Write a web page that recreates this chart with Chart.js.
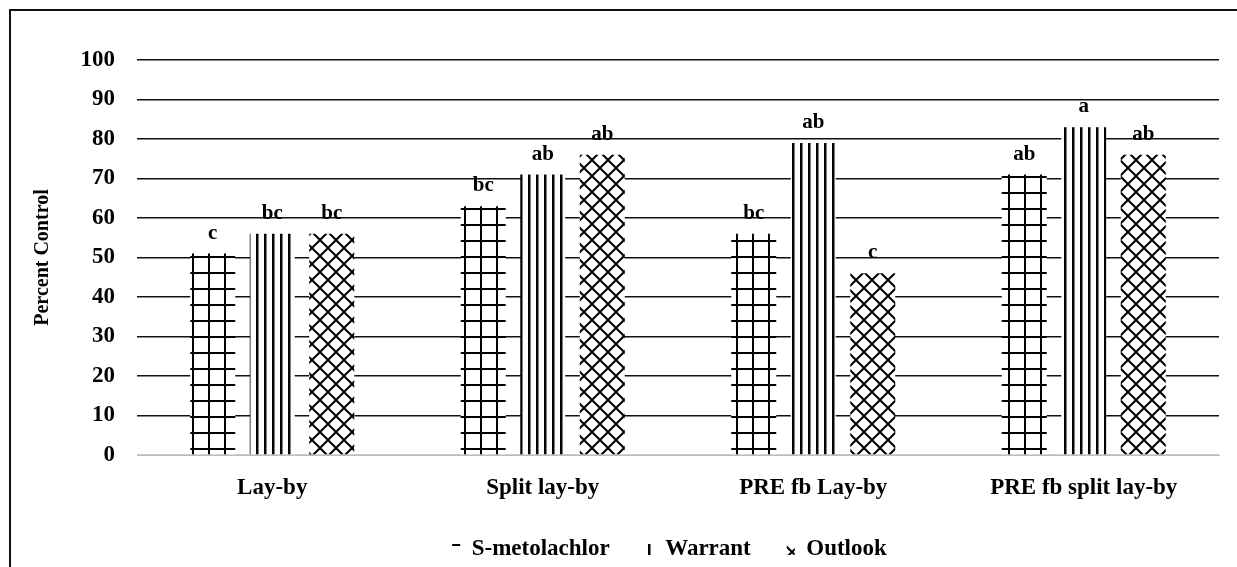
<!DOCTYPE html>
<html>
<head>
    <title>Percent Control</title>
    <script src="https://cdn.jsdelivr.net/npm/chart.js"></script>
    <style>
        body { margin: 0; background: #fff; }
        #wrap { position: relative; width: 1237px; height: 567px; }
        #frame { position: absolute; left: 9px; top: 9px; right: 0; bottom: 0;
                 border-left: 2px solid #111; border-top: 2px solid #111; pointer-events: none; }
    </style>
</head>
<body>
<div id="wrap">
    <canvas id="chart" width="1237" height="567"></canvas>
    <div id="frame"></div>
</div>
<script>
const categories = ['Lay-by', 'Split lay-by', 'PRE fb Lay-by', 'PRE fb split lay-by'];
const seriesNames = ['S-metolachlor', 'Warrant', 'Outlook'];
const metolachlor = [51, 63, 56, 71];
const warrant = [56, 71, 79, 83];
const outlook = [56, 76, 46, 76];
const metolachlorLetters = ['c', 'bc', 'bc', 'ab'];
const warrantLetters = ['bc', 'ab', 'ab', 'a'];
const outlookLetters = ['bc', 'ab', 'c', 'ab'];
const yTicks = [0, 10, 20, 30, 40, 50, 60, 70, 80, 90, 100];

const FONT = '"Liberation Serif", "Times New Roman", serif';

// hatch patterns on white
function makePattern(size, draw) {
    const c = document.createElement('canvas');
    c.width = size; c.height = size;
    const g = c.getContext('2d');
    g.fillStyle = '#fff';
    g.fillRect(0, 0, size, size);
    g.fillStyle = '#000';
    g.strokeStyle = '#000';
    draw(g, size);
    return document.getElementById('chart').getContext('2d').createPattern(c, 'repeat');
}

const gridPattern = makePattern(16, (g) => {
    g.fillRect(0, 0, 2, 16);
    g.fillRect(0, 0, 16, 2);
});
const linePattern = makePattern(8, (g) => {
    g.fillRect(0, 0, 2.5, 8);
});
const crossPattern = makePattern(16, (g, s) => {
    g.lineWidth = 2;
    [-s, 0, s].forEach(o => {
        g.beginPath(); g.moveTo(o - 1, -1); g.lineTo(o + s + 1, s + 1); g.stroke();
        g.beginPath(); g.moveTo(o + s + 1, -1); g.lineTo(o - 1, s + 1); g.stroke();
    });
});

const letters = [metolachlorLetters, warrantLetters, outlookLetters];

const letterPlugin = {
    id: 'letters',
    afterLayout(chart) {
        // legend sits a bit right of centre in the original
        chart.legend.left += 49;
        chart.legend.right += 49;
    },
    afterDatasetsDraw(chart) {
        const ctx = chart.ctx;
        ctx.save();
        ctx.font = 'bold 21px ' + FONT;
        ctx.fillStyle = '#000';
        ctx.textAlign = 'center';
        ctx.textBaseline = 'alphabetic';
        chart.data.datasets.forEach((ds, i) => {
            chart.getDatasetMeta(i).data.forEach((bar, j) => {
                ctx.fillText(letters[i][j], bar.x, bar.y - 15);
            });
        });
        ctx.restore();
    }
};

new Chart(document.getElementById('chart'), {
    type: 'bar',
    data: {
        labels: categories,
        datasets: [
            { label: seriesNames[0], data: metolachlor, backgroundColor: gridPattern },
            { label: seriesNames[1], data: warrant, backgroundColor: linePattern },
            { label: seriesNames[2], data: outlook, backgroundColor: crossPattern }
        ]
    },
    options: {
        responsive: false,
        animation: false,
        devicePixelRatio: 1,
        layout: { padding: { left: 22, right: 18, top: 60, bottom: 0 } },
        datasets: {
            bar: { categoryPercentage: 0.66, barPercentage: 0.756, borderWidth: 0 }
        },
        scales: {
            x: {
                grid: { display: false },
                border: { color: '#bbb', dash: [2, 2], width: 1 },
                ticks: { color: '#000', font: { family: FONT, size: 23, weight: 'bold' }, padding: 11 },
                afterFit(scale) { scale.height = 47; }
            },
            y: {
                min: 0,
                max: 100,
                afterBuildTicks(scale) { scale.ticks = yTicks.map(v => ({ value: v })); },
                grid: {
                    drawTicks: false,
                    lineWidth: 1.6,
                    color: (c) => c.tick && c.tick.value === 0 ? '#ccc' : '#111'
                },
                border: { display: false },
                ticks: { color: '#000', font: { family: FONT, size: 23, weight: 'bold' }, padding: 22 },
                title: {
                    display: true,
                    text: 'Percent Control',
                    color: '#000',
                    font: { family: FONT, size: 20, weight: 'bold' },
                    padding: { top: 9, bottom: 20 }
                },
                afterFit(scale) { scale.width = 115; }
            }
        },
        plugins: {
            legend: {
                position: 'bottom',
                maxHeight: 65,
                labels: {
                    color: '#000',
                    font: { family: FONT, size: 23, weight: 'bold' },
                    boxWidth: 8,
                    boxHeight: 11,
                    padding: 36
                }
            },
            tooltip: { enabled: false }
        }
    },
    plugins: [letterPlugin]
});
</script>
</body>
</html>
